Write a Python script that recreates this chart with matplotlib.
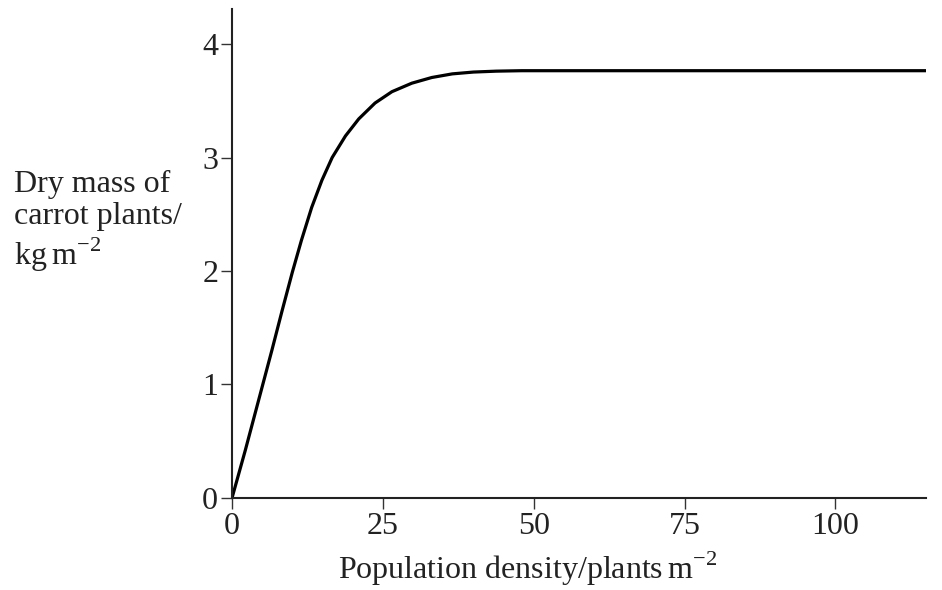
import matplotlib
matplotlib.use("Agg")
import matplotlib.pyplot as plt

# === Données ===
density = [0, 2.2, 4.4, 6.6, 8.3, 10.0, 11.5, 13.2, 14.9, 16.6, 18.8,
           21.0, 23.7, 26.5, 29.8, 33.1, 36.5, 40.0, 43.8, 48.0, 52.6, 115]
dry_mass = [0, 0.42, 0.86, 1.30, 1.65, 1.99, 2.27, 2.56, 2.80, 3.00, 3.19,
            3.34, 3.48, 3.58, 3.655, 3.705, 3.737, 3.753, 3.761, 3.765, 3.765, 3.765]
x_ticks = [0, 25, 50, 75, 100]
y_ticks = [0, 1, 2, 3, 4]

# === Style ===
plt.rcParams['font.family'] = ['Liberation Serif', 'DejaVu Serif']
plt.rcParams['mathtext.fontset'] = 'custom'
plt.rcParams['mathtext.rm'] = 'Liberation Serif'
plt.rcParams['font.size'] = 22

fig = plt.figure(figsize=(9.42, 5.90), dpi=100)
ax = fig.add_axes([0.2463, 0.156, 0.983 - 0.2463, 0.985 - 0.156])

ax.plot(density, dry_mass, color='black', lw=2.3, solid_joinstyle='round')

ax.set_xlim(0, 115)
ax.set_ylim(0, 4.31)
ax.set_xticks(x_ticks)
ax.set_yticks(y_ticks)
ax.spines['top'].set_visible(False)
ax.spines['right'].set_visible(False)
for s in ('left', 'bottom'):
    ax.spines[s].set_linewidth(1.5)
    ax.spines[s].set_color('#222222')
ax.tick_params(direction='out', length=8, width=1, color='#333333',
               labelcolor='#222222', labelsize=23, pad=2)

# étiquettes des axes
fig.text(0.56, 0.035, r'Population density/plants$\,$m$^{-2}$',
         ha='center', va='center', color='#222222', fontsize=23)
fig.text(0.015, 0.624, 'Dry mass of\ncarrot plants/\nkg$\\,$m$^{-2}$',
         ha='left', va='center', linespacing=1.15, color='#222222', fontsize=23)

fig.savefig('out.png', dpi=100)
